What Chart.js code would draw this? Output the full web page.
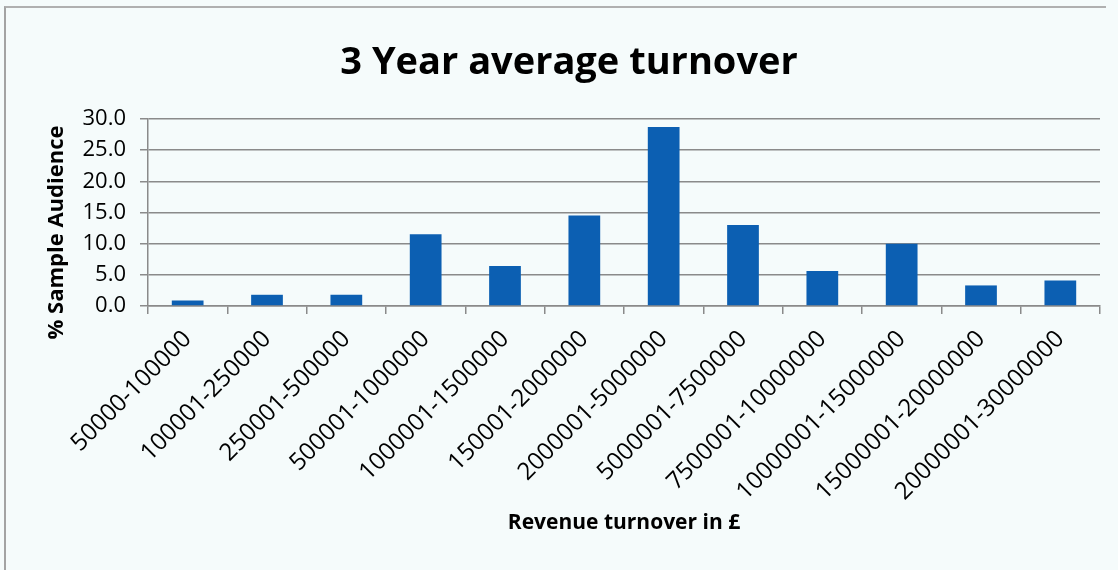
<!DOCTYPE html>
<html>
<head>
<meta charset="utf-8">
<script src="https://cdn.jsdelivr.net/npm/chart.js@4"></script>
<style>
    html, body { margin: 0; padding: 0; background: #f5fbfb; }
    #wrap { position: relative; width: 1118px; height: 570px; overflow: hidden; }
    #frame {
        position: absolute; left: 4px; top: 6px; width: 1100px; height: 600px;
        border-left: 2px solid #a3a3a3; border-top: 2px solid #b0b0b0;
    }
    canvas { position: absolute; left: 0; top: 0; }
</style>
</head>
<body>
<div id="wrap">
    <div id="frame"></div>
    <canvas id="turnover" width="1118" height="570"></canvas>
</div>
<script>
const bands = [
    "50000-100000", "100001-250000", "250001-500000", "500001-1000000",
    "1000001-1500000", "150001-2000000", "2000001-5000000", "5000001-7500000",
    "7500001-10000000", "10000001-15000000", "15000001-20000000", "20000001-30000000"
];
const sharePct = [0.9, 1.8, 1.8, 11.5, 6.4, 14.5, 28.7, 13.0, 5.6, 10.0, 3.3, 4.1];
const yTicks = [0, 5, 10, 15, 20, 25, 30];
const yTitle = "% Sample Audience";

const fontFamily = "'Open Sans', 'Liberation Sans', sans-serif";
const gridGrey = "#8a8a8a";

// y axis title sits a little below the middle of the plot, so draw it by hand
const yTitlePlugin = {
    id: "yTitle",
    afterDraw(chart) {
        const c = chart.ctx;
        const area = chart.chartArea;
        c.save();
        c.translate(57, (area.top + area.bottom) / 2 + 20);
        c.rotate(-Math.PI / 2);
        c.font = "bold 22px " + fontFamily;
        c.fillStyle = "#000";
        c.textAlign = "center";
        c.textBaseline = "middle";
        c.fillText(yTitle, 0, 0);
        c.restore();
    }
};

const ctx = document.getElementById("turnover").getContext("2d");

new Chart(ctx, {
    type: "bar",
    data: {
        labels: bands,
        datasets: [{
            label: yTitle,
            data: sharePct,
            backgroundColor: "#0c5fb2",
            borderWidth: 0,
            categoryPercentage: 1.0,
            barPercentage: 0.4
        }]
    },
    plugins: [yTitlePlugin],
    options: {
        responsive: false,
        animation: false,
        layout: { padding: { left: 38, right: 18, top: 0, bottom: 0 } },
        plugins: {
            legend: { display: false },
            tooltip: { enabled: false },
            title: {
                display: true,
                text: "3 Year average turnover",
                color: "#000",
                font: { family: fontFamily, size: 38, weight: "bold", lineHeight: 1.2 },
                padding: { top: 40, bottom: 33.4 }
            }
        },
        scales: {
            x: {
                afterFit: scale => { scale.height = 264; },
                grid: {
                    display: true,
                    drawOnChartArea: false,
                    drawTicks: true,
                    tickLength: 8,
                    offset: true,
                    color: gridGrey,
                    lineWidth: 1.5
                },
                border: { display: true, color: gridGrey, width: 1.5 },
                ticks: {
                    autoSkip: false,
                    maxRotation: 45,
                    minRotation: 45,
                    padding: 11,
                    color: "#000",
                    font: { family: fontFamily, size: 24 }
                },
                title: {
                    display: true,
                    text: "Revenue turnover in £",
                    color: "#000",
                    font: { family: fontFamily, size: 21, weight: "bold", lineHeight: 1.2 },
                    padding: { top: 4, bottom: 34.4 }
                }
            },
            y: {
                min: 0,
                max: 30,
                afterFit: scale => { scale.width = 110; },
                afterBuildTicks: scale => {
                    scale.ticks = yTicks.map(v => ({ value: v }));
                },
                grid: {
                    color: gridGrey,
                    lineWidth: 1.5,
                    drawTicks: true,
                    tickLength: 8
                },
                border: { display: true, color: gridGrey, width: 1.5 },
                ticks: {
                    padding: 14,
                    color: "#000",
                    font: { family: fontFamily, size: 22 },
                    callback: value => value.toFixed(1)
                }
            }
        }
    }
});
</script>
</body>
</html>
